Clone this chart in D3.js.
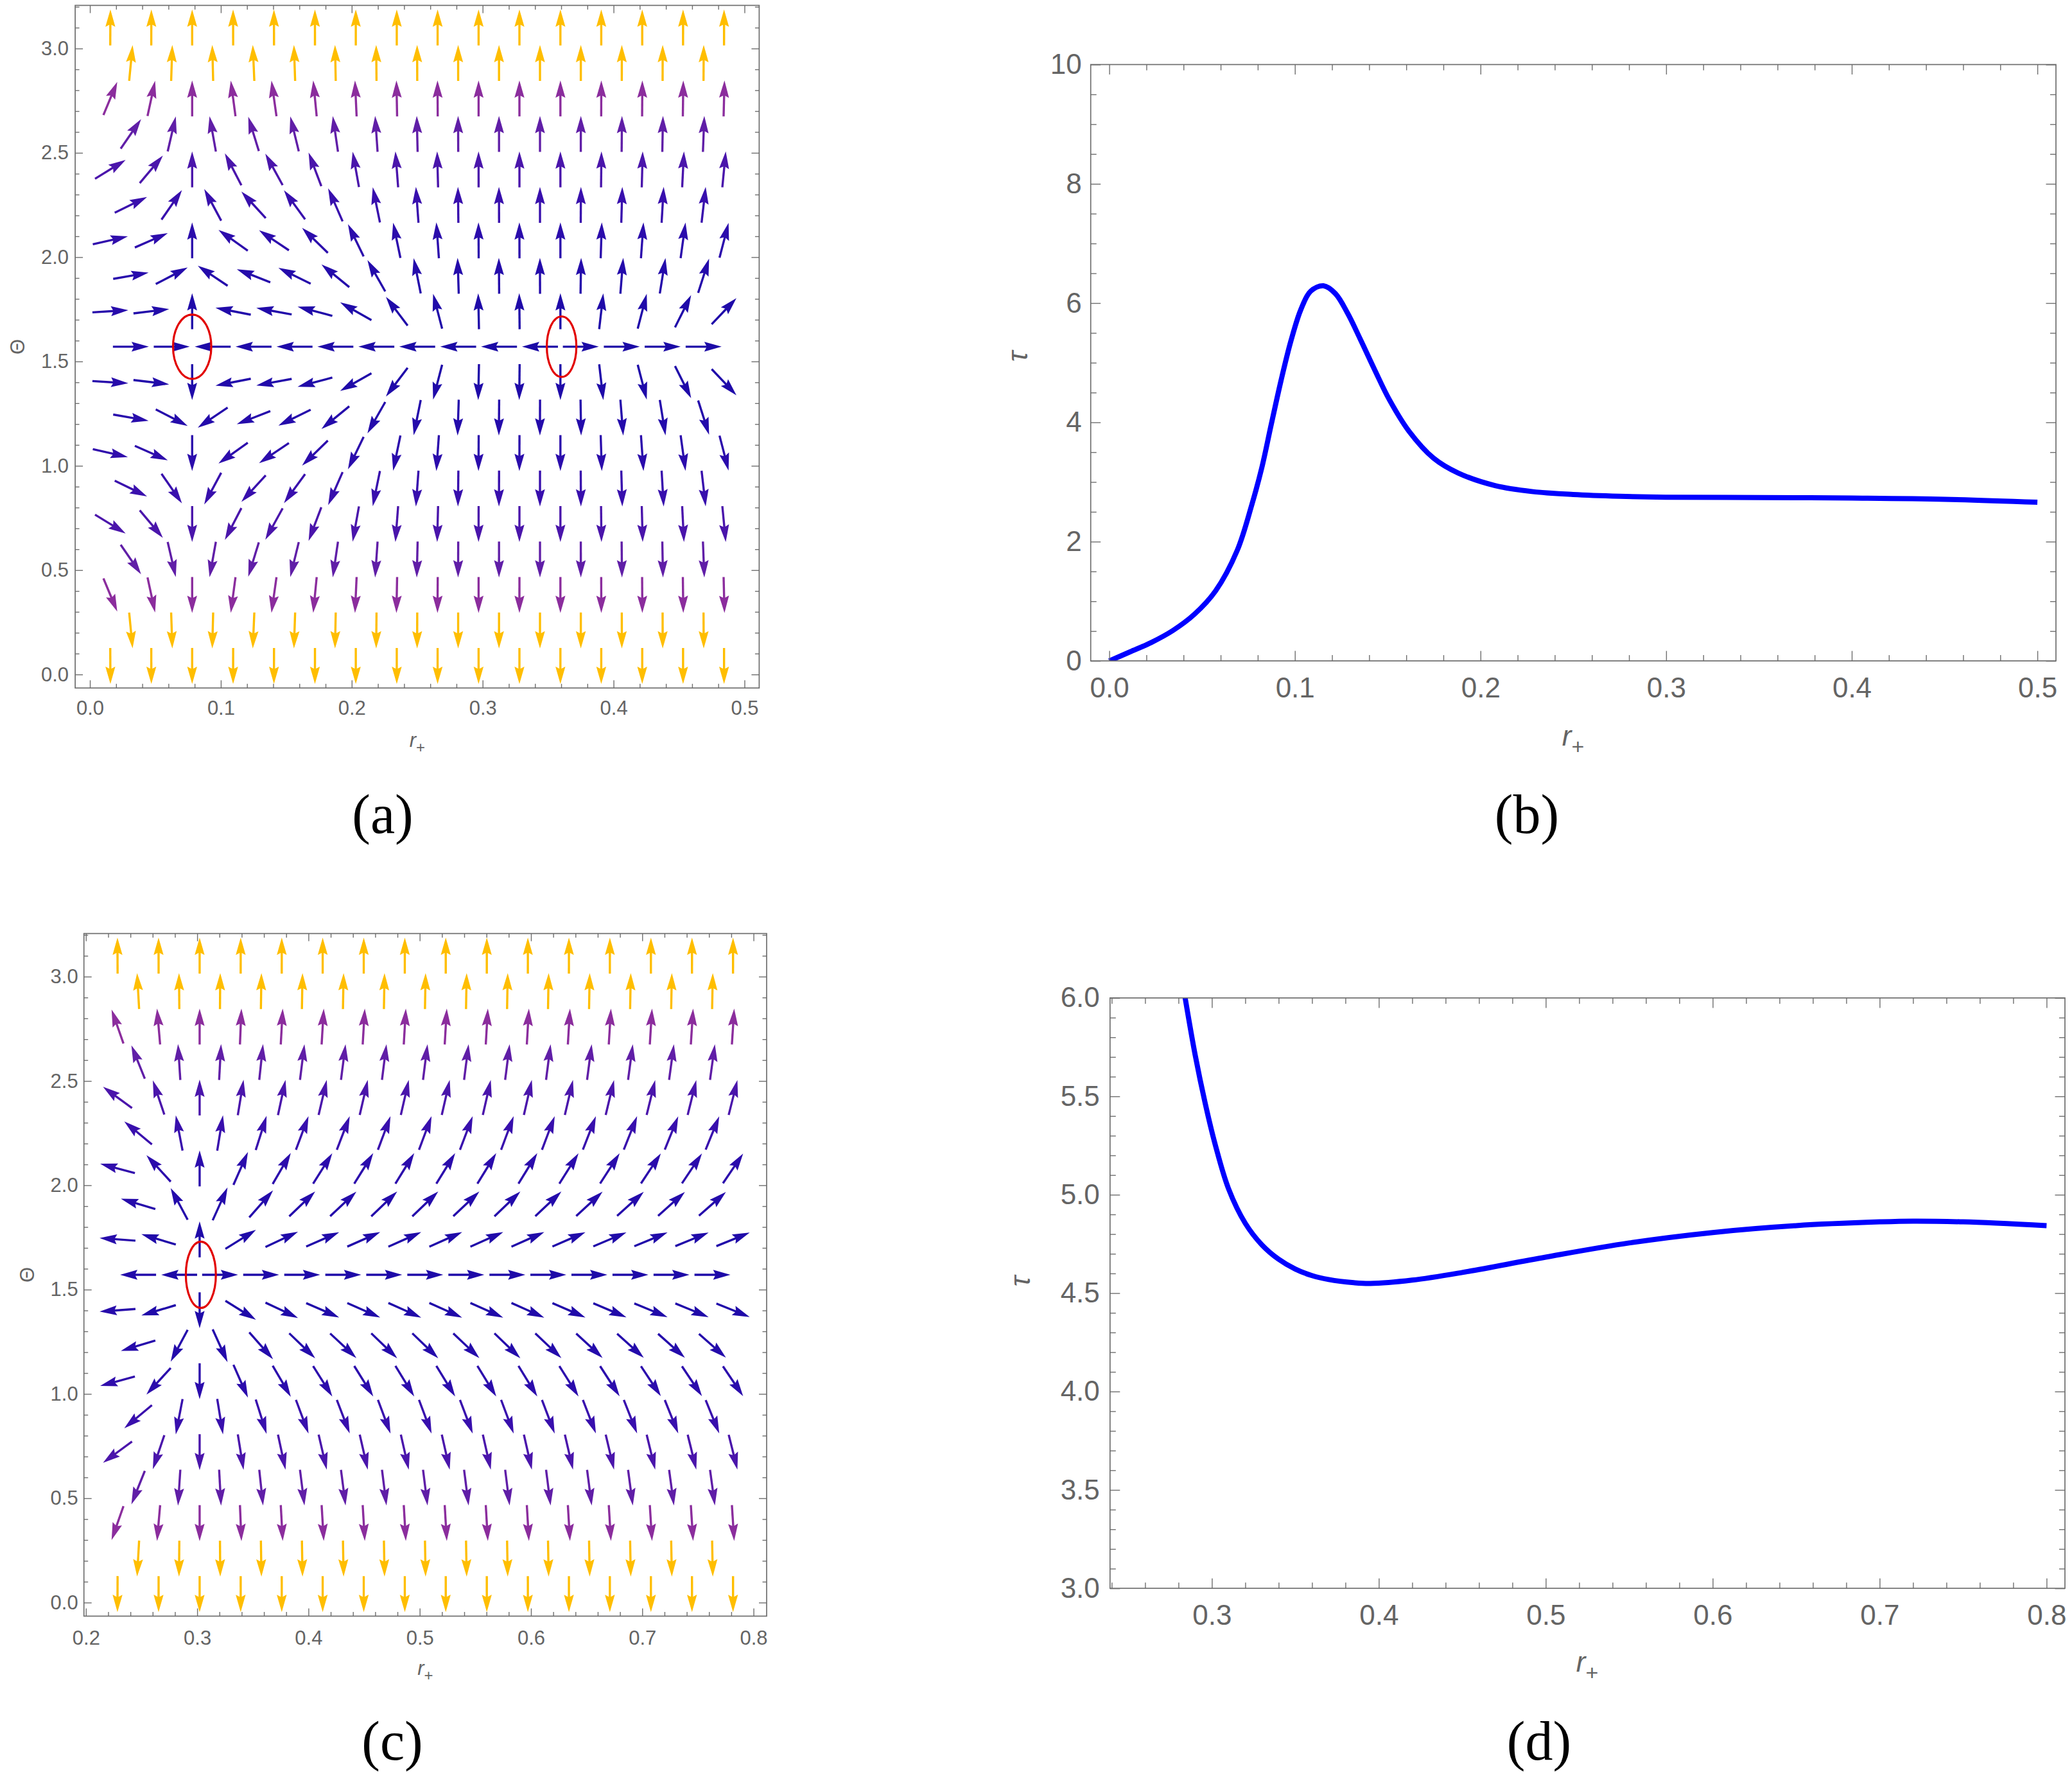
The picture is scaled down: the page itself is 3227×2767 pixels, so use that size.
<!DOCTYPE html>
<html>
<head>
<meta charset="utf-8">
<script src="https://cdn.jsdelivr.net/npm/d3@7"></script>
<style>
  html, body { margin: 0; padding: 0; background: #ffffff; }
  svg { display: block; }
</style>
</head>
<body>
<svg id="fig" width="3227" height="2767" xmlns="http://www.w3.org/2000/svg"></svg>
<script>
// ======================= DATA =======================
// Vector-field sampling rows: Θ values and the Θ-component of the field on each row
const thetaRows = [3.1008, 2.9308, 2.7608, 2.5908, 2.4208, 2.2508, 2.0808, 1.9108, 1.7408, 1.5708,
                   1.4008, 1.2308, 1.0608, 0.8908, 0.7208, 0.5508, 0.3808, 0.2108, 0.0408];
const phiThetaRows = [600.8, 22.34, 6.72, 3.115, 1.723, 1.044, 0.635, 0.375, 0.174, 0,
                      -0.174, -0.375, -0.635, -1.044, -1.723, -3.115, -6.72, -22.34, -600.8];

// Panel (a): sampling columns r+ and r-component of the field (read from arrow tilts)
const aColumns = [0.0156, 0.0313, 0.0469, 0.0625, 0.0781, 0.0938, 0.1094, 0.125, 0.1406, 0.1563,
                  0.1719, 0.1875, 0.2031, 0.2188, 0.2344, 0.25, 0.2656, 0.2813, 0.2969, 0.3125,
                  0.3281, 0.3438, 0.3594, 0.375, 0.3906, 0.4063, 0.4219, 0.4375, 0.4531, 0.4688, 0.4844];
const aPhiR = [0.446, 0.342, 0.231, 0.115, 0, -0.089, -0.142, -0.153, -0.151, -0.121,
               -0.104, -0.073, -0.049, -0.034, -0.021, -0.012, -0.0072, -0.0019, -0.0006, -0.0005,
               -0.0003, -0.0002, 0, 0.001, 0.0032, 0.0048, 0.0072, 0.0096, 0.0139, 0.0191, 0.0263];
// Panel (a): zero points (red ellipses)
const aZeroR  = [0.0781, 0.3603];
const aZeroRx = [0.0146, 0.0113];
const aZeroRy = [0.154, 0.145];

// Panel (c)
const cColumns = [0.2284, 0.2469, 0.2653, 0.2838, 0.3022, 0.3206, 0.3391, 0.3575, 0.376, 0.3944,
                  0.4128, 0.4313, 0.4497, 0.4681, 0.4866, 0.505, 0.5234, 0.5419, 0.5603, 0.5788,
                  0.5972, 0.6156, 0.6341, 0.6525, 0.6709, 0.6894, 0.7078, 0.7263, 0.7447, 0.7631, 0.7816];
const cPhiR = [-0.441, -0.235, -0.109, -0.0376, 0, 0.0319, 0.0526, 0.062, 0.0695, 0.0732,
               0.0751, 0.0751, 0.0742, 0.0732, 0.0732, 0.0732, 0.0732, 0.0742, 0.0732, 0.0732,
               0.0732, 0.0742, 0.0751, 0.076, 0.077, 0.0779, 0.0789, 0.0789, 0.0798, 0.0798, 0.0807];
const cZeroR  = [0.3033];
const cZeroRx = [0.0135];
const cZeroRy = [0.159];

// Panel (b): τ vs r+
const bR   = [0, 0.0112, 0.0227, 0.0343, 0.0458, 0.0573, 0.0689, 0.0768, 0.0821, 0.0873,
              0.0926, 0.0979, 0.1032, 0.1085, 0.1154, 0.1218, 0.1284, 0.135, 0.143, 0.1509,
              0.1615, 0.1747, 0.188, 0.2078, 0.2277, 0.2499, 0.275, 0.2997, 0.35, 0.3999, 0.45, 0.5];
const bTau = [0, 0.152, 0.31, 0.51, 0.78, 1.175, 1.85, 2.62, 3.23, 3.97,
              4.71, 5.37, 5.89, 6.20, 6.29, 6.16, 5.83, 5.41, 4.88, 4.38,
              3.85, 3.40, 3.15, 2.94, 2.84, 2.79, 2.76, 2.745, 2.74, 2.73, 2.71, 2.66];

// Panel (d): τ vs r+
const dR   = [0.2815, 0.284, 0.290, 0.296, 0.302, 0.310, 0.320, 0.330, 0.340, 0.350, 0.360, 0.370,
              0.385, 0.395, 0.42, 0.45, 0.50, 0.55, 0.60, 0.65, 0.70, 0.72, 0.75, 0.80];
const dTau = [6.13, 6.00, 5.71, 5.465, 5.255, 5.03, 4.855, 4.745, 4.672, 4.622, 4.589, 4.569,
              4.553, 4.549, 4.566, 4.605, 4.683, 4.755, 4.808, 4.843, 4.862, 4.866, 4.862, 4.843];

// Tick values
const xTicksA = [0, 0.1, 0.2, 0.3, 0.4, 0.5];
const xTicksC = [0.2, 0.3, 0.4, 0.5, 0.6, 0.7, 0.8];
const yTicksTheta = [0, 0.5, 1, 1.5, 2, 2.5, 3];
const xTicksB = [0, 0.1, 0.2, 0.3, 0.4, 0.5];
const yTicksB = [0, 2, 4, 6, 8, 10];
const xTicksD = [0.3, 0.4, 0.5, 0.6, 0.7, 0.8];
const yTicksD = [3, 3.5, 4, 4.5, 5, 5.5, 6];
const captions = ["(a)", "(b)", "(c)", "(d)"];

// ======================= STYLE =======================
const TXT = "#646464", FRAME = "#6e6e6e";
const SANS = "'Liberation Sans', Arial, Helvetica, sans-serif";
const SERIF = "'Liberation Serif', 'Times New Roman', serif";
const LINE_BLUE = "#0000ff";
const RED = "#e20000";

const magStops  = [0.01, 0.174, 0.375, 0.635, 1.044, 1.723, 3.115, 6.72, 15];
const magColors = ["#1b0aa6", "#1f0aa9", "#240bab", "#2b0cac", "#380fad", "#4a15ab", "#601ea7", "#8b2d9d", "#ffbe00"];
const arrowColor = d3.scaleLog().domain(magStops).range(magColors).clamp(true);

const svg = d3.select("#fig");
svg.append("rect").attr("width", 3227).attr("height", 2767).attr("fill", "#fff");

// ======================= SCALES =======================
const xA = d3.scaleLinear().domain([-0.01125, 0.51125]).range([117.1, 1182.4]);
const yA = d3.scaleLinear().domain([-0.065, 3.2066]).range([1071.3, 8.4]);
const xC = d3.scaleLinear().domain([0.1982, 0.8118]).range([130.7, 1194.0]);
const yC = d3.scaleLinear().domain([-0.065, 3.2066]).range([2516.5, 1453.6]);
const xB = d3.scaleLinear().domain([-0.01, 0.51]).range([1698.7, 3202.0]);
const yB = d3.scaleLinear().domain([0, 10]).range([1029.1, 100.5]);
const xD = d3.scaleLinear().domain([0.239, 0.811]).range([1728.8, 3216.0]);
const yD = d3.scaleLinear().domain([3, 6]).range([2473.2, 1553.9]);

// ======================= HELPERS =======================
function minorTicks(scale, step, majors) {
  const [a, b] = scale.domain();
  const out = [];
  for (let k = Math.ceil(a / step - 1e-9); k * step <= b + 1e-9; k++) {
    const v = +(k * step).toFixed(6);
    if (!majors.some(m => Math.abs(m - v) < 1e-9)) out.push(v);
  }
  return out;
}

function frameAxes(g, x, y, o) {
  const [x0, x1] = x.range();
  const [y0, y1] = y.range();
  const specs = [
    { fn: d3.axisBottom, s: x, tr: `translate(0,${y0})`, maj: o.xMaj, min: o.xMin, fmt: o.fx, pad: o.padX },
    { fn: d3.axisTop,    s: x, tr: `translate(0,${y1})`, maj: o.xMaj, min: o.xMin, fmt: null },
    { fn: d3.axisLeft,   s: y, tr: `translate(${x0},0)`, maj: o.yMaj, min: o.yMin, fmt: o.fy, pad: o.padY },
    { fn: d3.axisRight,  s: y, tr: `translate(${x1},0)`, maj: o.yMaj, min: o.yMin, fmt: null }
  ];
  specs.forEach(sp => {
    const gm = g.append("g").attr("transform", sp.tr)
      .call(sp.fn(sp.s).tickValues(sp.min).tickSizeInner(-o.minLen).tickSizeOuter(0).tickFormat(""));
    const gM = g.append("g").attr("transform", sp.tr)
      .call(sp.fn(sp.s).tickValues(sp.maj).tickSizeInner(-o.majLen).tickSizeOuter(0)
        .tickPadding(sp.pad || 0).tickFormat(sp.fmt ? sp.fmt : ""));
    [gm, gM].forEach(ga => {
      ga.select(".domain").remove();
      ga.selectAll("line").attr("stroke", FRAME).attr("stroke-width", 1.4);
      ga.selectAll("text").attr("fill", TXT).attr("font-family", SANS).attr("font-size", o.fs);
    });
  });
  g.append("rect").attr("x", x0).attr("y", y1).attr("width", x1 - x0).attr("height", y0 - y1)
    .attr("fill", "none").attr("stroke", FRAME).attr("stroke-width", 1.7);
}

function drawField(g, x, y, cols, phiR) {
  const L = 56, HL = 27, HW = 7.7, NOTCH = 4, SW = 3.4;
  thetaRows.forEach((th, ri) => {
    cols.forEach((r, ci) => {
      if ((ci % 2 === 0) !== (ri % 2 === 0)) return;
      const pr = phiR[ci], pt = phiThetaRows[ri];
      const px = x(r), py = y(th);
      const vx = x(r + pr) - px, vy = y(th + pt) - py;
      const ang = Math.atan2(vy, vx) * 180 / Math.PI;
      const col = arrowColor(Math.max(1e-3, Math.hypot(pr, pt)));
      const a = g.append("g").attr("transform", `translate(${px},${py}) rotate(${ang})`);
      a.append("line").attr("x1", -L / 2).attr("y1", 0).attr("x2", L / 2 - HL + NOTCH + 1).attr("y2", 0)
        .attr("stroke", col).attr("stroke-width", SW);
      a.append("path")
        .attr("d", `M${L / 2},0 L${L / 2 - HL},${-HW} L${L / 2 - HL + NOTCH},0 L${L / 2 - HL},${HW} Z`)
        .attr("fill", col);
    });
  });
}

function drawZeros(g, x, y, rs, rxs, rys) {
  rs.forEach((r, i) => {
    g.append("ellipse")
      .attr("cx", x(r)).attr("cy", y(Math.PI / 2))
      .attr("rx", x(r + rxs[i]) - x(r))
      .attr("ry", y(Math.PI / 2 - rys[i]) - y(Math.PI / 2))
      .attr("fill", "none").attr("stroke", RED).attr("stroke-width", 3.2);
  });
}

function rPlusLabel(g, cx, by, fs, subFs, subDy) {
  const t = g.append("text").attr("x", cx).attr("y", by).attr("text-anchor", "middle")
    .attr("font-family", SANS).attr("font-size", fs).attr("fill", TXT);
  t.append("tspan").attr("font-style", "italic").text("r");
  t.append("tspan").attr("font-size", subFs).attr("dy", subDy).text("+");
}

function vLabel(g, bx, cy, fs, txt, italic) {
  g.append("text").attr("transform", `translate(${bx},${cy}) rotate(-90)`)
    .attr("text-anchor", "middle").attr("font-family", SANS).attr("font-size", fs)
    .attr("font-style", italic ? "italic" : "normal").attr("fill", TXT).text(txt);
}

function caption(g, cx, by, txt) {
  g.append("text").attr("x", cx).attr("y", by).attr("text-anchor", "middle")
    .attr("font-family", SERIF).attr("font-size", 86).attr("fill", "#000").text(txt);
}

const f1 = d3.format(".1f"), f0 = d3.format("d");

// ======================= PANEL (a) =======================
const gA = svg.append("g");
drawField(gA.append("g"), xA, yA, aColumns, aPhiR);
drawZeros(gA, xA, yA, aZeroR, aZeroRx, aZeroRy);
frameAxes(gA, xA, yA, {
  xMaj: xTicksA, xMin: minorTicks(xA, 0.02, xTicksA),
  yMaj: yTicksTheta, yMin: minorTicks(yA, 0.1, yTicksTheta),
  fx: f1, fy: f1, majLen: 12, minLen: 6.5, fs: 31, padX: 20, padY: 10
});
rPlusLabel(gA, 649.8, 1163, 31, 24, 9);
vLabel(gA, 38, 540, 31, "Θ", false);
caption(gA, 596, 1297, captions[0]);

// ======================= PANEL (c) =======================
const gC = svg.append("g");
drawField(gC.append("g"), xC, yC, cColumns, cPhiR);
drawZeros(gC, xC, yC, cZeroR, cZeroRx, cZeroRy);
frameAxes(gC, xC, yC, {
  xMaj: xTicksC, xMin: minorTicks(xC, 0.02, xTicksC),
  yMaj: yTicksTheta, yMin: minorTicks(yC, 0.1, yTicksTheta),
  fx: f1, fy: f1, majLen: 12, minLen: 6.5, fs: 31, padX: 22, padY: 9
});
rPlusLabel(gC, 662.4, 2608, 31, 24, 9);
vLabel(gC, 53, 1985, 31, "Θ", false);
caption(gC, 611, 2740, captions[2]);

// ======================= PANEL (b) =======================
const gB = svg.append("g");
svg.append("clipPath").attr("id", "clipB").append("rect")
  .attr("x", xB.range()[0]).attr("y", yB.range()[1])
  .attr("width", xB.range()[1] - xB.range()[0]).attr("height", yB.range()[0] - yB.range()[1]);
const lineB = d3.line().x(d => xB(d[0])).y(d => yB(d[1])).curve(d3.curveCatmullRom.alpha(0.5));
gB.append("path").datum(d3.zip(bR, bTau)).attr("d", lineB)
  .attr("fill", "none").attr("stroke", LINE_BLUE).attr("stroke-width", 8)
  .attr("stroke-linejoin", "round").attr("clip-path", "url(#clipB)");
frameAxes(gB, xB, yB, {
  xMaj: xTicksB, xMin: minorTicks(xB, 0.02, xTicksB),
  yMaj: yTicksB, yMin: minorTicks(yB, 0.5, yTicksB),
  fx: f1, fy: f0, majLen: 15.5, minLen: 9, fs: 44, padX: 26, padY: 14
});
rPlusLabel(gB, 2450, 1161, 44, 34, 13);
vLabel(gB, 1600, 555, 44, "τ", true);
caption(gB, 2378, 1297, captions[1]);

// ======================= PANEL (d) =======================
const gD = svg.append("g");
svg.append("clipPath").attr("id", "clipD").append("rect")
  .attr("x", xD.range()[0]).attr("y", yD.range()[1])
  .attr("width", xD.range()[1] - xD.range()[0]).attr("height", yD.range()[0] - yD.range()[1]);
const lineD = d3.line().x(d => xD(d[0])).y(d => yD(d[1])).curve(d3.curveCatmullRom.alpha(0.5));
gD.append("path").datum(d3.zip(dR, dTau)).attr("d", lineD)
  .attr("fill", "none").attr("stroke", LINE_BLUE).attr("stroke-width", 8)
  .attr("stroke-linejoin", "round").attr("clip-path", "url(#clipD)");
frameAxes(gD, xD, yD, {
  xMaj: xTicksD, xMin: minorTicks(xD, 0.02, xTicksD),
  yMaj: yTicksD, yMin: minorTicks(yD, 0.1, yTicksD),
  fx: f1, fy: f1, majLen: 15.5, minLen: 9, fs: 44, padX: 26, padY: 16
});
rPlusLabel(gD, 2472, 2603, 44, 34, 13);
vLabel(gD, 1604, 1995, 44, "τ", true);
caption(gD, 2397, 2740, captions[3]);
</script>
</body>
</html>
